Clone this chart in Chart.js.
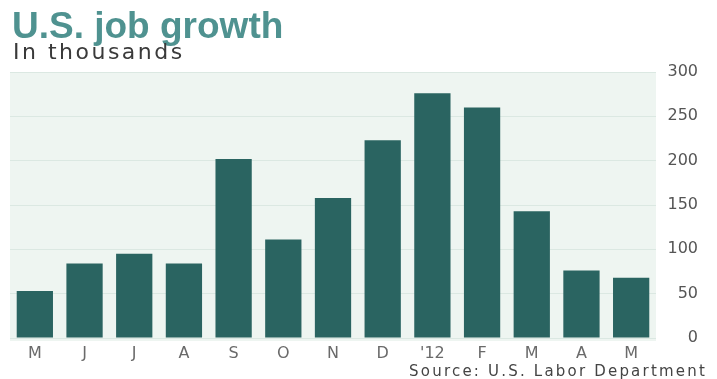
<!DOCTYPE html>
<html lang="en">
<head>
  <meta charset="UTF-8">
  <title>U.S. job growth</title>
  <style>
    body { margin: 0; padding: 0; background: #fff; }
    #wrap { position: relative; width: 717px; height: 379px; overflow: hidden; }
    #chart-box { position: absolute; left: 0; top: 0; width: 717px; height: 379px; }
    .title { position: absolute; left: 12px; top: 5px; font-family: "Liberation Sans", Arial, sans-serif; font-weight: bold; font-size: 37px; color: #4f9290; white-space: nowrap; }
    .subtitle { position: absolute; left: 13px; top: 39px; font-family: "DejaVu Sans", sans-serif; font-size: 22px; letter-spacing: 2.5px; color: #3a3a3a; white-space: nowrap; }
    .source { position: absolute; right: 10px; top: 362px; font-family: "DejaVu Sans", sans-serif; font-size: 15px; letter-spacing: 2.2px; color: #444; white-space: nowrap; }
  </style>
  <script src="https://cdn.jsdelivr.net/npm/chart.js"></script>
</head>
<body>
  <div id="wrap">
    <div id="chart-box"><canvas id="jobs"></canvas></div>
    <div class="title">U.S. job growth</div>
    <div class="subtitle">In thousands</div>
    <div class="source">Source: U.S. Labor Department</div>
  </div>
  <script>
    // Monate Mai 2011 bis Mai 2012
    const months = ['M', 'J', 'J', 'A', 'S', 'O', 'N', 'D', "'12", 'F', 'M', 'A', 'M'];
    const jobs = [53, 84, 95, 84, 202, 111, 158, 223, 276, 260, 143, 76, 68];
    const yTicks = [0, 50, 100, 150, 200, 250, 300];

    // heller Hintergrund der Zeichenfläche
    const plotBg = {
      id: 'plotBg',
      beforeDraw(chart) {
        const a = chart.chartArea;
        const ctx = chart.ctx;
        ctx.save();
        ctx.fillStyle = '#eef5f1';
        ctx.fillRect(a.left, a.top, a.right - a.left, a.bottom - a.top + 3);
        ctx.restore();
      }
    };

    new Chart(document.getElementById('jobs'), {
      type: 'bar',
      data: {
        labels: months,
        datasets: [{
          data: jobs,
          backgroundColor: '#2a6461',
          borderWidth: 0,
          barPercentage: 0.73,
          categoryPercentage: 1
        }]
      },
      options: {
        responsive: true,
        maintainAspectRatio: false,
        animation: false,
        layout: { padding: { left: 10, top: 72, right: 19, bottom: 0 } },
        plugins: {
          legend: { display: false },
          tooltip: { enabled: false }
        },
        scales: {
          x: {
            grid: { display: false, drawTicks: false },
            border: { display: false },
            ticks: {
              color: '#6a6a6a',
              padding: 6,
              maxRotation: 0,
              autoSkip: false,
              font: { family: 'DejaVu Sans', size: 16 }
            },
            afterFit(scale) { scale.height = 41; }
          },
          y: {
            position: 'right',
            min: 0,
            max: 300,
            afterBuildTicks(scale) { scale.ticks = yTicks.map(v => ({ value: v })); },
            grid: { color: '#dbe8e2', lineWidth: 1, drawTicks: false },
            border: { display: false },
            ticks: {
              color: '#555',
              padding: 0,
              crossAlign: 'far',
              font: { family: 'DejaVu Sans', size: 16 }
            },
            afterFit(scale) { scale.width = 42; }
          }
        }
      },
      plugins: [plotBg]
    });
  </script>
</body>
</html>
